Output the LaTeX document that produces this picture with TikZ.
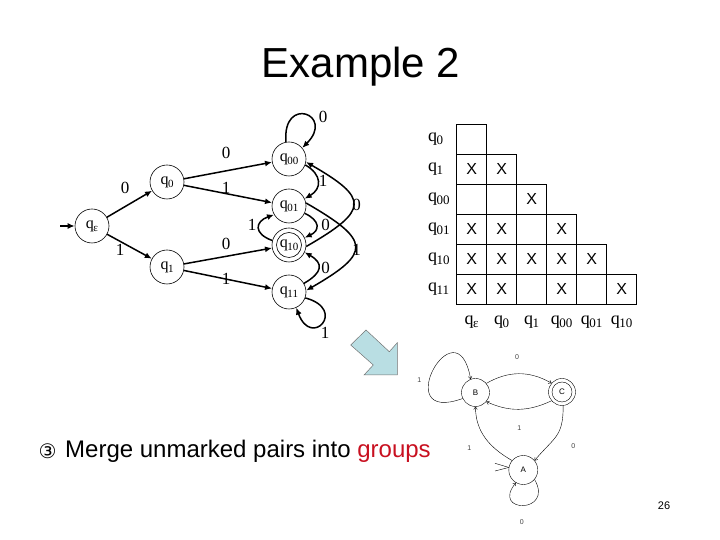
\documentclass[tikz,border=0pt]{standalone}
\usepackage{fontspec}
\setmainfont{Liberation Serif}
\newfontfamily\arialfont{Liberation Sans}
\newfontfamily\circfont{DejaVu Sans}
\usetikzlibrary{arrows.meta}
\definecolor{groupred}{RGB}{200,16,32}
\definecolor{hintblue}{RGB}{185,222,227}
\newcommand{\qsub}[1]{q\kern-0.5pt\raisebox{-3pt}{\fontsize{11}{11}\selectfont #1}}
\newcommand{\qrow}[1]{q\kern-0.5pt\raisebox{-3pt}{\fontsize{13}{13}\selectfont #1}}
\tikzset{
  dstate/.style={draw, circle, minimum size=34pt, inner sep=0pt, line width=0.6pt, font=\fontsize{16}{16}\selectfont},
  dmove/.style={-{Latex[length=7pt,width=6pt]}, line width=1.5pt},
  dsym/.style={inner sep=0pt, font=\fontsize{17}{17}\selectfont},
  xmark/.style={inner sep=0pt, font=\arialfont\fontsize{16}{16}\selectfont},
  qlabel/.style={inner sep=0pt, font=\fontsize{18}{18}\selectfont},
  mstate/.style={draw, circle, minimum size=28pt, inner sep=0pt, line width=0.4pt, font=\arialfont\fontsize{8}{8}\selectfont},
  mmove/.style={-{To[length=3pt,width=4pt]}, line width=0.4pt},
  msym/.style={inner sep=0pt, font=\arialfont\fontsize{7}{7}\selectfont, text=black!75},
}
\begin{document}
\begin{tikzpicture}[x=1pt,y=1pt]
\useasboundingbox (0,0) rectangle (720,540);
\node[anchor=base, font=\arialfont\fontsize{42}{42}\selectfont] (title) at (361,462.5) {Example 2};

\node[dstate] (qe) at (92,314) {\qsub{ε}};
\node[dstate] (q0) at (167,358) {\qsub{0}};
\node[dstate] (q1) at (167,273) {\qsub{1}};
\node[dstate] (q00) at (289,381) {\qsub{00}};
\node[dstate] (q01) at (289,334) {\qsub{01}};
\node[dstate] (q10) at (289,295) {\qsub{10}};
\node[dstate] (q11) at (289,248) {\qsub{11}};
\draw[line width=0.6pt] (q10.center) circle[radius=12.5];
\coordinate (start) at (60,314);
\draw[dmove] (start) -- (qe);
\draw[dmove] (qe) -- (q0);
\draw[dmove] (qe) -- (q1);
\draw[dmove] (q0) -- (q00);
\draw[dmove] (q0) -- (q01);
\draw[dmove] (q1) -- (q10);
\draw[dmove] (q1) -- (q11);
\draw[dmove] (q00.100) to[out=95,in=45,looseness=7] (q00.40);
\draw[dmove] (q00.-20) to[out=-30,in=30,looseness=1.5] (q01.25);
\draw[dmove] (q01.-25) to[out=-25,in=25,looseness=1.8] (q10.25);
\draw[dmove] (q10.165) to[out=160,in=200,looseness=2] (q01.210);
\draw[dmove] (q11.30) to[out=30,in=-30,looseness=1.8] (q10.-25);
\draw[dmove] (q10.-5) to[out=30,in=-30,looseness=2.2] (q00.-10);
\draw[dmove] (q01.10) to[out=-30,in=30,looseness=2.2] (q11.5);
\draw[dmove] (q11.-20) to[out=-15,in=-70,distance=44] (q11.-65);
\node[dsym] (le0) at (125,351.7) {0};
\node[dsym] (le1) at (120,290) {1};
\node[dsym] (l00) at (226,387) {0};
\node[dsym] (l01) at (226,352) {1};
\node[dsym] (l10) at (226,296) {0};
\node[dsym] (l11) at (226,261) {1};
\node[dsym] (lloop0) at (323,423) {0};
\node[dsym] (la) at (323,359) {1};
\node[dsym] (lb) at (325.5,315) {0};
\node[dsym] (lc) at (252,315) {1};
\node[dsym] (ld) at (325.5,272) {0};
\node[dsym] (le) at (356.5,335) {0};
\node[dsym] (lf) at (356.5,290) {1};
\node[dsym] (lloop1) at (325,207) {1};

\foreach \r in {1,...,6} {
  \foreach \c in {1,...,\r} {
    \draw[line width=0.6pt] (426.7+30*\c,446-30*\r) rectangle +(30,-30);
  }
}
\foreach \r/\c in {2/1,2/2,3/3,4/1,4/2,4/4,5/1,5/2,5/3,5/4,5/5,6/1,6/2,6/4,6/6}
  \node[xmark] (x\r\c) at (441.7+30*\c,431-30*\r) {X};
\node[qlabel, anchor=west] (row0) at (428,401) {\qrow{0}};
\node[qlabel, anchor=west] (row1) at (428,371) {\qrow{1}};
\node[qlabel, anchor=west] (row00) at (428,341) {\qrow{00}};
\node[qlabel, anchor=west] (row01) at (428,311) {\qrow{01}};
\node[qlabel, anchor=west] (row10) at (428,281) {\qrow{10}};
\node[qlabel, anchor=west] (row11) at (428,251) {\qrow{11}};
\node[qlabel] (cole) at (471.7,218) {\qrow{ε}};
\node[qlabel] (col0) at (501.7,218) {\qrow{0}};
\node[qlabel] (col1) at (531.7,218) {\qrow{1}};
\node[qlabel] (col00) at (561.7,218) {\qrow{00}};
\node[qlabel] (col01) at (591.7,218) {\qrow{01}};
\node[qlabel] (col10) at (621.7,218) {\qrow{10}};

\draw[fill=hintblue, draw=black!55, line width=0.5pt] (350.7,195) -- (366,210) -- (389.3,188.3) -- (397.3,197.3) -- (397.3,165) -- (364,165) -- (373.3,175) -- cycle;

\node[mstate] (B) at (475.5,147.5) {B};
\node[mstate, minimum size=27pt] (C) at (562,148) {C};
\node[mstate, minimum size=29pt] (A) at (523.3,70) {A};
\draw[line width=0.4pt] (C.center) circle[radius=10];
\coordinate (ia1) at (495,76.7);
\coordinate (ia2) at (495,69);
\draw[line width=0.4pt] (ia1) -- (A.170);
\draw[line width=0.4pt] (ia2) -- (A.170);
\draw[mmove] (B.205) to[out=200,in=100,distance=80] (B.110);
\draw[mmove] (B.40) to[out=30,in=150] (C.140);
\draw[mmove] (C.-140) to[out=-155,in=-25] (B.-40);
\draw[mmove] (C.-85) to[out=-90,in=50,looseness=1.3] (A.40);
\draw[mmove] (A.140) to[out=150,in=-90] (B.-90);
\draw[mmove] (A.-40) to[out=-60,in=-130,distance=40] (A.-120);
\node[msym] (m0top) at (517,182.7) {0};
\node[msym] (m1left) at (419.3,160) {1};
\node[msym] (m1mid) at (519.3,111.7) {1};
\node[msym] (m1low) at (469.3,91.7) {1};
\node[msym] (m0right) at (573.3,94) {0};
\node[msym] (m0bot) at (521.7,18.3) {0};

\node[inner sep=0pt, font=\circfont\fontsize{20}{20}\selectfont] (step3) at (47.5,89) {③};
\node[anchor=base west, inner sep=0pt, font=\arialfont\fontsize{24}{24}\selectfont] (merge) at (65,82) {Merge unmarked pairs into \textcolor{groupred}{groups}};
\node[inner sep=0pt, font=\arialfont\fontsize{11}{11}\selectfont] (page) at (664,34) {26};
\end{tikzpicture}
\end{document}
